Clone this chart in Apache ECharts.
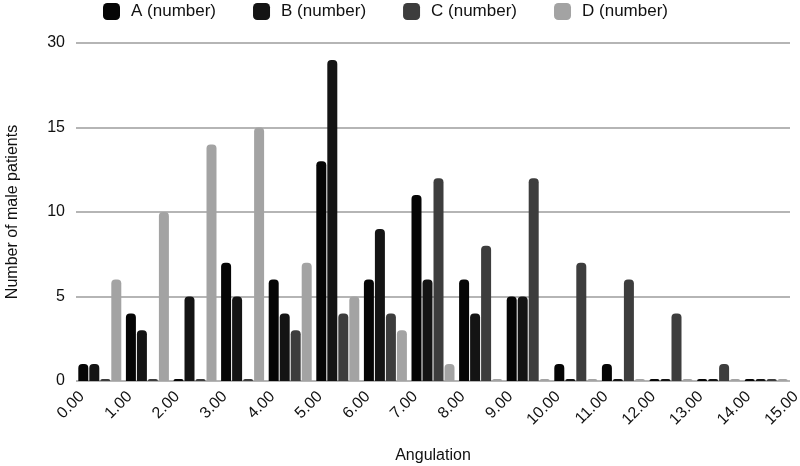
<!DOCTYPE html>
<html>
<head>
<meta charset="utf-8">
<script src="https://cdn.jsdelivr.net/npm/echarts@6/dist/echarts.min.js"></script>
<style>
  html, body { margin: 0; padding: 0; background: #fff; }
  #chart { width: 800px; height: 466px; }
</style>
</head>
<body>
<div id="chart"></div>
<script>
// angulation bins (one group of bars per bin) and the tick labels at bin edges
var bins = ['0', '1', '2', '3', '4', '5', '6', '7', '8', '9', '10', '11', '12', '13', '14'];
var xTickLabels = ['0.00', '1.00', '2.00', '3.00', '4.00', '5.00', '6.00', '7.00',
  '8.00', '9.00', '10.00', '11.00', '12.00', '13.00', '14.00', '15.00'];
var yTickLabels = ['0', '5', '10', '15', '30'];

var seriesNames = ['A (number)', 'B (number)', 'C (number)', 'D (number)'];
var valuesA = [1, 4, 0, 7, 6, 13, 6, 11, 6, 5, 1, 1, 0, 0, 0];
var valuesB = [1, 3, 5, 5, 4, 19, 9, 6, 4, 5, 0, 0, 0, 0, 0];
var valuesC = [0, 0, 0, 0, 3, 4, 4, 12, 8, 12, 7, 6, 4, 1, 0];
var valuesD = [6, 10, 14, 15, 7, 5, 3, 1, 0, 0, 0, 0, 0, 0, 0];

var colors = ['#050505', '#141414', '#3d3d3d', '#a3a3a3'];
var font = 'Liberation Sans, Arial, sans-serif';

function barSeries(name, data, i) {
  return {
    name: name, type: 'bar', data: data,
    xAxisIndex: 0, yAxisIndex: 0,
    barWidth: 10, barGap: '10%', barMinHeight: 2,
    itemStyle: { color: colors[i], borderRadius: [4, 4, 0, 0] },
    emphasis: { disabled: true }
  };
}

var chart = echarts.init(document.getElementById('chart'));
chart.setOption({
  animation: false,
  color: colors,
  textStyle: { fontFamily: font },
  legend: {
    top: -2, left: 98,
    itemWidth: 17, itemHeight: 17, itemGap: 37,
    icon: 'roundRect',
    textStyle: { fontSize: 17, color: '#111', fontFamily: font, padding: [0, 0, 0, 6] },
    data: seriesNames
  },
  // second grid only carries the edge tick labels, set a little to the right like the source
  grid: [
    { left: 76, right: 10, top: 43, bottom: 85, outerBoundsMode: 'none' },
    { left: 82, right: 4, top: 43, bottom: 85, outerBoundsMode: 'none' }
  ],
  xAxis: [{
    type: 'category', data: bins, boundaryGap: true, gridIndex: 0,
    name: 'Angulation', nameLocation: 'middle', nameGap: 67,
    nameTextStyle: { fontSize: 16, color: '#111', fontFamily: font },
    axisLine: { show: false }, axisTick: { show: false }, axisLabel: { show: false }
  }, {
    type: 'value', min: 0, max: 15, interval: 1, gridIndex: 1,
    axisLine: { show: false }, axisTick: { show: false }, splitLine: { show: false },
    axisLabel: {
      rotate: 45, margin: 13, fontSize: 16, color: '#111', fontFamily: font,
      formatter: function (v) { return xTickLabels[Math.round(v)]; }
    }
  }],
  yAxis: [{
    type: 'value', min: 0, max: 20, interval: 5, gridIndex: 0,
    name: 'Number of male patients', nameLocation: 'middle', nameGap: 55,
    nameTextStyle: { fontSize: 16, color: '#111', fontFamily: font },
    axisLine: { show: false }, axisTick: { show: false },
    axisLabel: {
      fontSize: 16, color: '#111', margin: 11, fontFamily: font,
      formatter: function (v) { return yTickLabels[Math.round(v / 5)]; }
    },
    splitLine: { lineStyle: { color: '#b5b5b5', width: 2 } }
  }, {
    type: 'value', min: 0, max: 20, gridIndex: 1, show: false
  }],
  series: [
    barSeries(seriesNames[0], valuesA, 0),
    barSeries(seriesNames[1], valuesB, 1),
    barSeries(seriesNames[2], valuesC, 2),
    barSeries(seriesNames[3], valuesD, 3)
  ]
});
</script>
</body>
</html>
